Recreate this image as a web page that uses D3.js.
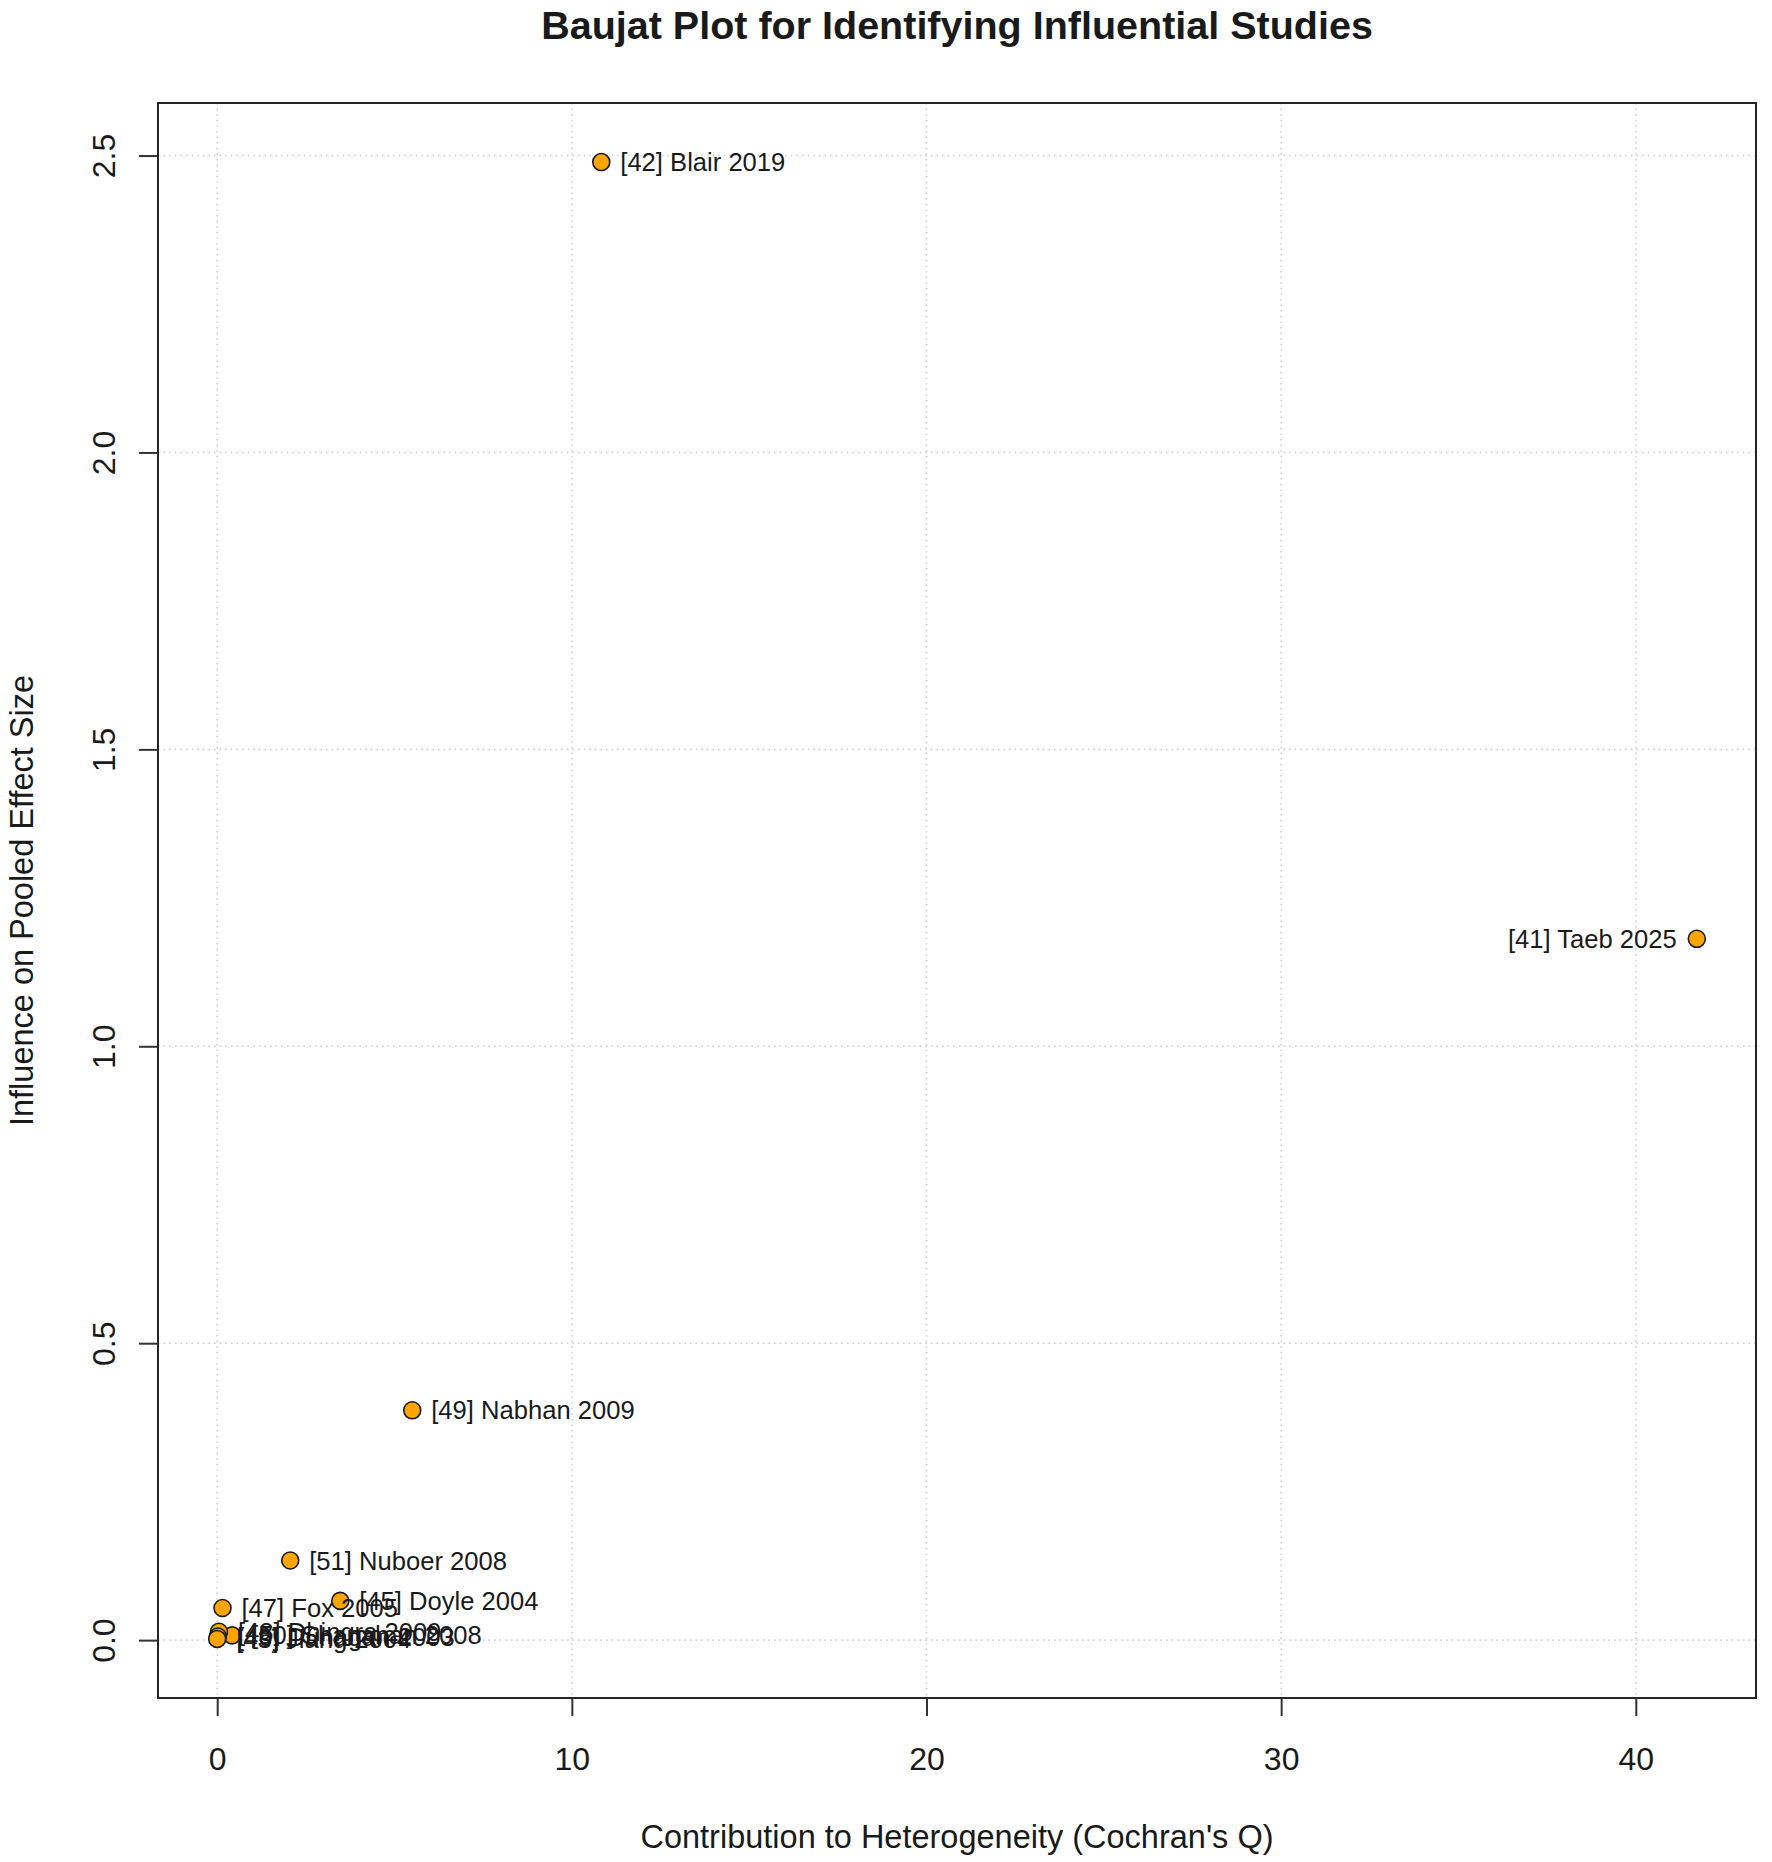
<!DOCTYPE html>
<html>
<head>
<meta charset="utf-8">
<script src="https://cdn.jsdelivr.net/npm/d3@7"></script>
<style>
  body { margin: 0; background: #fff; }
  svg text { font-family: "Liberation Sans", Arial, sans-serif; fill: #1a1a1a; }
</style>
</head>
<body>
<div id="chart"></div>
<script>
// study labels, contribution to Q (x), influence on pooled effect (y)
const studies = [
    "[42] Blair 2019", "[41] Taeb 2025", "[49] Nabhan 2009", "[51] Nuboer 2008",
    "[45] Doyle 2004", "[47] Fox 2005", "[50] Shanahan 2008", "[48] Dhingra 2009",
    "[46] Dunagan 2003", "[43] Jiang 2004"
];
const qContrib = [10.83, 41.72, 5.50, 2.06, 3.47, 0.15, 0.42, 0.05, 0.02, 0.0];
const influence = [2.489, 1.181, 0.387, 0.134, 0.066, 0.054, 0.008, 0.014, 0.006, 0.002];

const xTicks = [0, 10, 20, 30, 40];
const yTicks = [0, 0.5, 1.0, 1.5, 2.0, 2.5];

const data = studies.map((s, i) => ({ label: s, q: qContrib[i], inf: influence[i] }));

const W = 1772, H = 1862;
const margin = { top: 103, right: 16, bottom: 164, left: 158 };
const width = W - margin.left - margin.right;
const height = H - margin.top - margin.bottom;

// R style 4% extension of the data range
function padExtent(vals) {
    const [lo, hi] = d3.extent(vals);
    const r = hi - lo;
    return [lo - 0.04 * r, hi + 0.04 * r];
}

const x = d3.scaleLinear().domain(padExtent(qContrib)).range([0, width]);
const y = d3.scaleLinear().domain(padExtent(influence)).range([height, 0]);

const svg = d3.select("#chart").append("svg")
    .attr("width", W)
    .attr("height", H);

svg.append("text")
    .attr("x", margin.left + width / 2)
    .attr("y", 25)
    .attr("text-anchor", "middle")
    .attr("dominant-baseline", "central")
    .style("font-size", "39.5px")
    .style("font-weight", "bold")
    .text("Baujat Plot for Identifying Influential Studies");

const g = svg.append("g")
    .attr("transform", `translate(${margin.left},${margin.top})`);

// grid
g.selectAll(".vgrid").data(xTicks).enter().append("line")
    .attr("x1", d => x(d)).attr("x2", d => x(d))
    .attr("y1", 0).attr("y2", height)
    .attr("stroke", "#cfcfcf").attr("stroke-width", 1.6)
    .attr("stroke-dasharray", "1.6,4");
g.selectAll(".hgrid").data(yTicks).enter().append("line")
    .attr("y1", d => y(d)).attr("y2", d => y(d))
    .attr("x1", 0).attr("x2", width)
    .attr("stroke", "#cfcfcf").attr("stroke-width", 1.6)
    .attr("stroke-dasharray", "1.6,4");

// axes
const xAxis = g.append("g")
    .attr("transform", `translate(0,${height})`)
    .call(d3.axisBottom(x).tickValues(xTicks).tickSize(18).tickPadding(30).tickFormat(d3.format("d")));
const yAxis = g.append("g")
    .call(d3.axisLeft(y).tickValues(yTicks).tickSize(19).tickPadding(0).tickFormat(d3.format(".1f")));

[xAxis, yAxis].forEach(a => {
    a.select(".domain").remove();
    a.selectAll(".tick line").attr("stroke", "#333").attr("stroke-width", 2);
    a.selectAll("text").style("font-size", "32px").attr("fill", "#1a1a1a");
});
xAxis.selectAll(".tick text").attr("dy", null).attr("dominant-baseline", "central").attr("y", 61);
yAxis.selectAll(".tick text")
    .attr("x", null).attr("dy", null)
    .attr("text-anchor", "middle")
    .attr("dominant-baseline", "central")
    .attr("transform", "translate(-54,0) rotate(-90)");

// box
g.append("rect")
    .attr("width", width).attr("height", height)
    .attr("fill", "none").attr("stroke", "#262626").attr("stroke-width", 2);

// axis titles
svg.append("text")
    .attr("x", margin.left + width / 2)
    .attr("y", 1837)
    .attr("text-anchor", "middle")
    .attr("dominant-baseline", "central")
    .style("font-size", "32.5px")
    .text("Contribution to Heterogeneity (Cochran's Q)");
svg.append("text")
    .attr("transform", `translate(22,${margin.top + height / 2}) rotate(-90)`)
    .attr("text-anchor", "middle")
    .attr("dominant-baseline", "central")
    .style("font-size", "32.5px")
    .text("Influence on Pooled Effect Size");

// points
const xMax = d3.max(qContrib);
g.selectAll(".pt").data(data).enter().append("circle")
    .attr("cx", d => x(d.q))
    .attr("cy", d => y(d.inf))
    .attr("r", 8.5)
    .attr("fill", "#FFA500")
    .attr("stroke", "#1a1a1a")
    .attr("stroke-width", 1.6);

// labels: right of point, except near the right edge
g.selectAll(".lbl").data(data).enter().append("text")
    .attr("x", d => d.q > 0.9 * xMax ? x(d.q) - 20 : x(d.q) + 19)
    .attr("y", d => y(d.inf))
    .attr("text-anchor", d => d.q > 0.9 * xMax ? "end" : "start")
    .attr("dominant-baseline", "central")
    .style("font-size", "25.6px")
    .text(d => d.label);
</script>
</body>
</html>
